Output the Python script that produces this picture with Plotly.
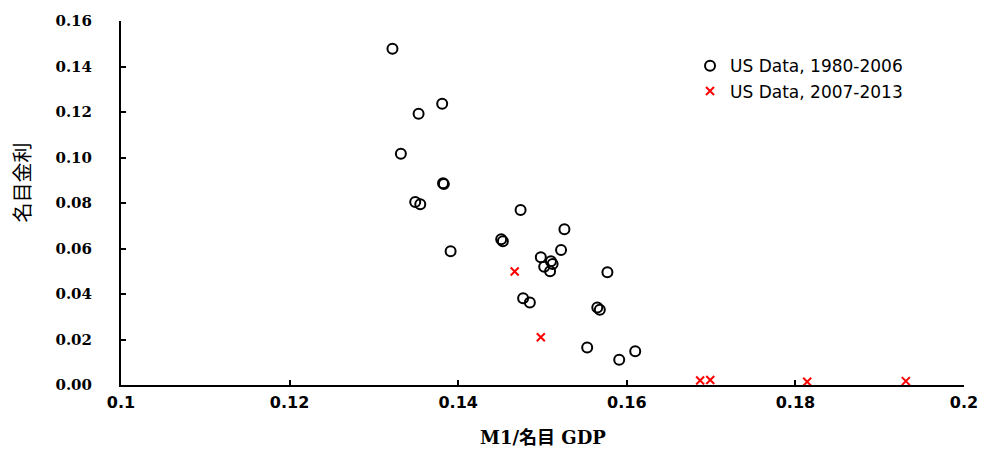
import plotly.graph_objects as go

# US Data, 1980-2006 (M1/nominal GDP, nominal interest rate)
x_1980_2006 = [0.1322, 0.1381, 0.1353, 0.1332, 0.1382, 0.1383, 0.1349, 0.1355,
               0.1391, 0.1474, 0.1451, 0.1453, 0.1526, 0.1522, 0.1498, 0.1510,
               0.1512, 0.1502, 0.1509, 0.1577, 0.1477, 0.1485, 0.1565, 0.1568,
               0.1553, 0.1610, 0.1591]
y_1980_2006 = [0.1478, 0.1236, 0.1192, 0.1016, 0.0887, 0.0883, 0.0804, 0.0795,
               0.0588, 0.0769, 0.0641, 0.0632, 0.0685, 0.0593, 0.0562, 0.0544,
               0.0532, 0.0520, 0.0500, 0.0496, 0.0381, 0.0363, 0.0341, 0.0331,
               0.0165, 0.0148, 0.0111]

# US Data, 2007-2013
x_2007_2013 = [0.1467, 0.1498, 0.1687, 0.1699, 0.1814, 0.1931]
y_2007_2013 = [0.0499, 0.0210, 0.0020, 0.0022, 0.0014, 0.0017]

x_ticks = [0.1, 0.12, 0.14, 0.16, 0.18, 0.2]
y_ticks = [0.00, 0.02, 0.04, 0.06, 0.08, 0.10, 0.12, 0.14, 0.16]

fig = go.Figure()
fig.add_trace(go.Scatter(
    x=x_1980_2006, y=y_1980_2006, mode="markers", name="US Data, 1980-2006",
    legendgroup="a",
    marker=dict(symbol="circle-open", size=10, color="black", line=dict(width=2, color="black")),
))
fig.add_trace(go.Scatter(
    x=x_2007_2013, y=y_2007_2013, mode="markers", name="US Data, 2007-2013",
    legendgroup="b",
    marker=dict(symbol="x-thin-open", size=8, color="#ff0000", line=dict(width=2, color="#ff0000")),
))

fig.update_layout(
    width=984, height=451,
    margin=dict(l=121, r=20, t=21, b=66, autoexpand=False),
    plot_bgcolor="white", paper_bgcolor="white",
    showlegend=True,
    legend=dict(x=0.675, y=0.925, xanchor="left", yanchor="top",
                font=dict(family="DejaVu Sans", size=17, color="black"),
                itemwidth=30, traceorder="grouped", tracegroupgap=0,
                bgcolor="rgba(0,0,0,0)"),
    xaxis=dict(range=[0.1, 0.2], tickvals=x_ticks, ticktext=[str(v) for v in x_ticks],
               automargin=False,
               showgrid=False, zeroline=False, showline=True, linecolor="black", linewidth=2,
               ticks="inside", ticklen=5, tickwidth=2, tickcolor="black", ticklabelstandoff=2,
               tickfont=dict(family="DejaVu Sans", size=16, color="black", weight="bold")),
    yaxis=dict(range=[0, 0.16], tickvals=y_ticks, tickformat=".2f",
               automargin=False,
               showgrid=False, zeroline=False, showline=True, linecolor="black", linewidth=2,
               ticks="inside", ticklen=5, tickwidth=2, tickcolor="black", ticklabelstandoff=24,
               tickfont=dict(family="DejaVu Serif", size=15, color="black", weight="bold")),
    annotations=[
        dict(text="<b>M1/名目 GDP</b>", xref="paper", yref="paper", x=0.5, y=-0.143,
             xanchor="center", yanchor="middle", showarrow=False,
             font=dict(family="DejaVu Serif, Noto Sans CJK JP", size=18, color="black")),
        dict(text="名目金利", xref="paper", yref="paper", x=-0.118, y=0.555,
             xanchor="center", yanchor="middle", showarrow=False, textangle=-90,
             font=dict(family="Noto Sans CJK JP", size=20, color="black")),
    ],
)

fig.write_html("out.html", config={"displayModeBar": False},
               post_script="document.body.style.margin='0';document.body.style.padding='0';")
